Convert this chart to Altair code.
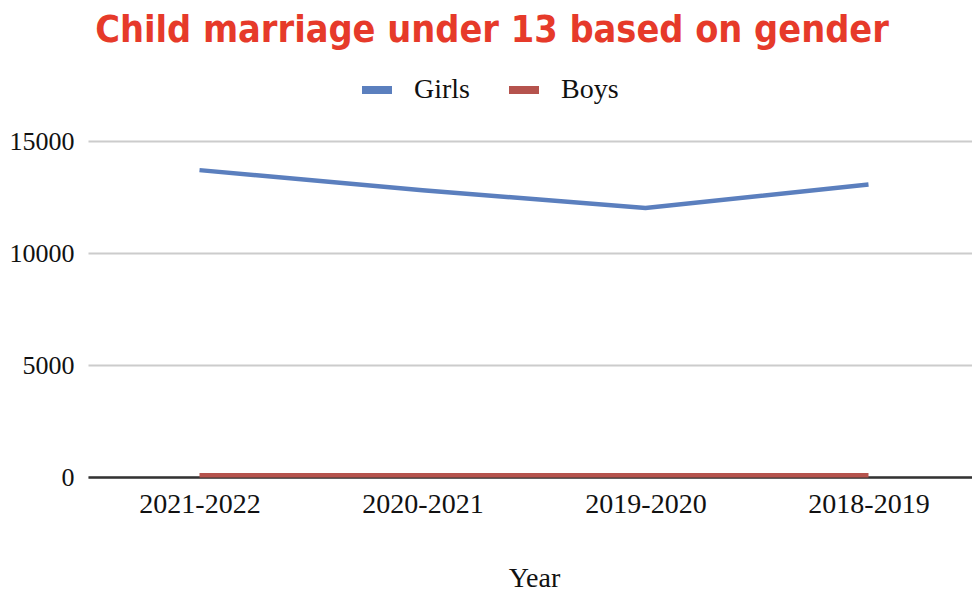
import altair as alt
import pandas as pd

years = ["2021-2022", "2020-2021", "2019-2020", "2018-2019"]
girls = [13700, 12800, 12010, 13060]
boys = [80, 80, 80, 80]
series = ["Girls", "Boys"]
colors = ["#5b7fbe", "#b5534d"]

rows = []
for y, g, b in zip(years, girls, boys):
    rows.append({"Year": y, "Gender": "Girls", "Value": g})
    rows.append({"Year": y, "Gender": "Boys", "Value": b})
df = pd.DataFrame(rows)

serif = "Liberation Serif, Times New Roman, serif"

chart = alt.Chart(df).mark_line(strokeWidth=4.5).encode(
    x=alt.X("Year:N", sort=years,
            scale=alt.Scale(type="point", padding=0.5, range=[0, 892]),
            axis=alt.Axis(title="Year", labelAngle=0, ticks=False, domain=True,
                          domainColor="#333333", domainWidth=2.5, grid=False,
                          labelFont=serif, labelFontSize=28, labelColor="#111111",
                          labelPadding=13, titleFont=serif, titleFontSize=28,
                          titleFontWeight="normal", titleColor="#111111",
                          titlePadding=46, titleX=446)),
    y=alt.Y("Value:Q", scale=alt.Scale(domain=[0, 15000], nice=False),
            axis=alt.Axis(title=None, values=[0, 5000, 10000, 15000], format="d",
                          ticks=False, domain=False, gridColor="#cccccc", gridWidth=2,
                          labelFont=serif, labelFontSize=26, labelColor="#111111",
                          labelPadding=14)),
    color=alt.Color("Gender:N", sort=series,
                    scale=alt.Scale(domain=series, range=colors),
                    legend=alt.Legend(title=None, orient="none", direction="horizontal",
                                      legendX=270, legendY=-70,
                                      symbolType="stroke", symbolStrokeWidth=8,
                                      symbolSize=900, labelFont=serif, labelFontSize=28,
                                      labelColor="#111111", labelOffset=18,
                                      columnPadding=23, padding=0)),
).properties(
    width=884,
    height=336,
    title=alt.TitleParams(
        "Child marriage under 13 based on gender",
        font="Liberation Sans Narrow, Arial Narrow, DejaVu Sans Condensed, sans-serif",
        fontSize=37.5, fontWeight="bold", color="#e63a2a", anchor="middle",
        dx=-38, offset=22),
    autosize=alt.AutoSizeParams(type="none"),
    padding={"left": 80, "top": 133, "right": 0, "bottom": 115},
).configure_view(stroke=None)

chart.save("out.html", embed_options={"renderer": "svg", "actions": False})
